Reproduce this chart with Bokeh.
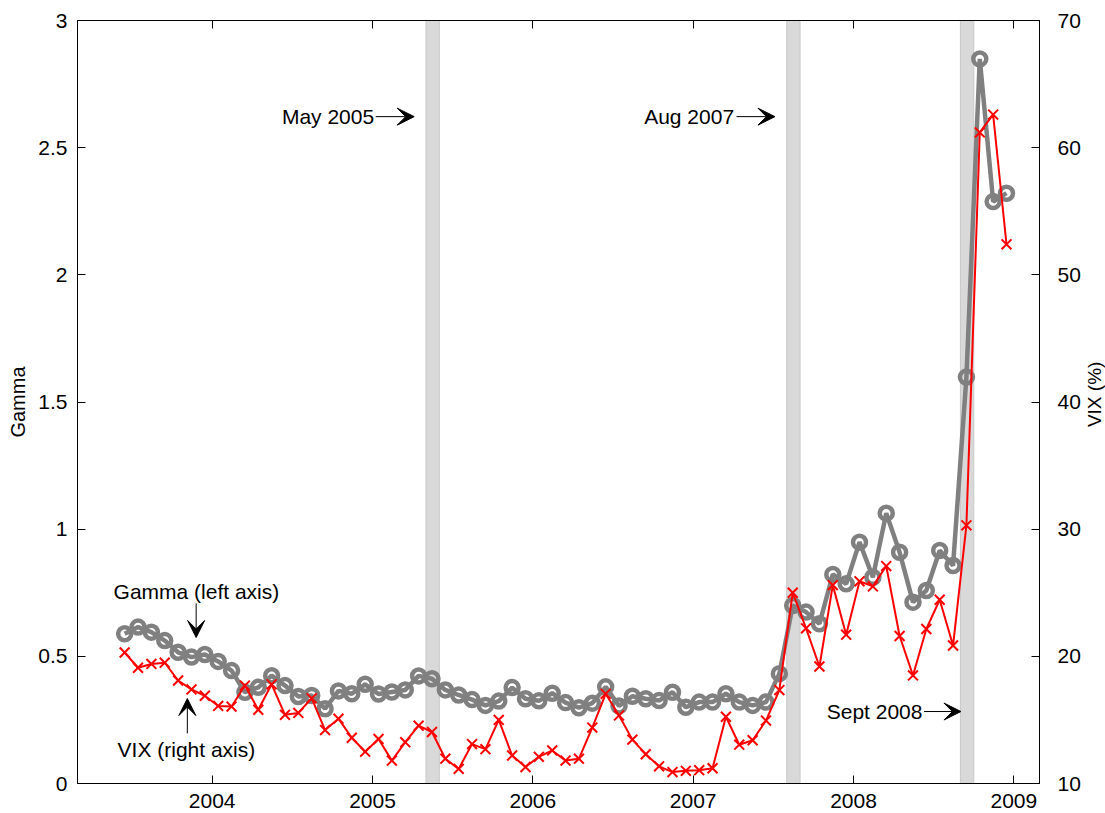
import math
import pandas as pd
from bokeh.plotting import figure
from bokeh.layouts import row
from bokeh.models import (Range1d, LinearAxis, FixedTicker, Label, Arrow, VeeHead,
                          NumeralTickFormatter, ColumnDataSource, CustomLabelingPolicy)
from bokeh.embed import file_html
from bokeh.resources import INLINE

# ---------------- data ----------------
start_month = "2003-06"
gamma = [0.589, 0.615, 0.595, 0.562, 0.516, 0.497, 0.507, 0.480, 0.444, 0.359,
         0.378, 0.424, 0.385, 0.342, 0.346, 0.294, 0.364, 0.353, 0.390, 0.352,
         0.360, 0.368, 0.423, 0.412, 0.368, 0.348, 0.330, 0.307, 0.324, 0.377,
         0.333, 0.325, 0.355, 0.318, 0.298, 0.316, 0.380, 0.305, 0.343, 0.333,
         0.326, 0.359, 0.300, 0.320, 0.320, 0.353, 0.320, 0.307, 0.320, 0.432,
         0.700, 0.674, 0.628, 0.822, 0.785, 0.949, 0.811, 1.063, 0.909, 0.713,
         0.759, 0.916, 0.857, 1.598, 2.849, 2.288, 2.321]
vix = [20.3, 19.1, 19.4, 19.5, 18.1, 17.4, 16.9, 16.1, 16.05, 17.7,
       15.8, 17.8, 15.4, 15.55, 16.7, 14.2, 15.1, 13.6, 12.5, 13.5,
       11.8, 13.25, 14.55, 14.05, 11.95, 11.15, 13.1, 12.7, 15.0, 12.2,
       11.3, 12.1, 12.6, 11.8, 11.95, 14.4, 17.05, 15.35, 13.45, 12.3,
       11.35, 10.9, 11.0, 11.05, 11.2, 15.25, 13.05, 13.4, 14.95, 17.35,
       25.0, 22.2, 19.2, 25.6, 21.7, 25.9, 25.5, 27.1, 21.6, 18.5,
       22.15, 24.45, 20.85, 30.3, 61.2, 62.6, 52.4]
event_months = ["2005-05", "2007-08", "2008-09"]
event_labels = ["May 2005", "Aug 2007", "Sept 2008"]
x_ticks = [2004, 2005, 2006, 2007, 2008, 2009]
gamma_ticks = [0, 0.5, 1, 1.5, 2, 2.5, 3]
vix_ticks = [10, 20, 30, 40, 50, 60, 70]

months = pd.period_range(start_month, periods=len(gamma), freq="M")
xs = list(months.year + (months.month - 1 + 0.45) / 12.0)

ev = [pd.Period(m, freq="M") for m in event_months]
band_left = [e.year + (e.month - 1) / 12.0 for e in ev]
band_right = [b + 1 / 12.0 for b in band_left]

FONT = "Liberation Sans"
FS = "21px"
X0, X1 = 2003.16, 2009.16

p = figure(width=1083, height=813, x_range=Range1d(X0, X1),
           y_range=Range1d(0, 3), output_backend="svg", toolbar_location=None,
           min_border_left=77, min_border_top=20, min_border_right=42,
           min_border_bottom=30)
p.grid.visible = False
p.outline_line_color = "black"
p.outline_line_width = 1
p.outline_line_alpha = 1
p.background_fill_color = "white"
p.border_fill_color = "white"

def style_axis(ax, ticks):
    ax.ticker = FixedTicker(ticks=ticks)
    ax.major_tick_in = 8
    ax.major_tick_out = 0
    ax.minor_tick_in = 0
    ax.minor_tick_out = 0
    ax.axis_line_color = "black"
    ax.major_tick_line_color = "black"
    ax.major_label_text_font = FONT
    ax.major_label_text_font_size = FS
    ax.major_label_text_color = "black"
    ax.axis_label_text_font = FONT
    ax.axis_label_text_font_size = "20px"
    ax.axis_label_text_font_style = "normal"
    ax.axis_label_text_color = "black"

style_axis(p.xaxis[0], x_ticks)
p.xaxis[0].formatter = NumeralTickFormatter(format="0")
p.xaxis[0].major_label_standoff = 10

style_axis(p.yaxis[0], gamma_ticks)
p.yaxis[0].formatter = NumeralTickFormatter(format="0.[0]")
p.yaxis[0].axis_label = "Gamma"
p.yaxis[0].major_label_standoff = 10
p.yaxis[0].axis_label_standoff = 6

p.extra_y_ranges = {"vix": Range1d(10, 70)}
rax = LinearAxis(y_range_name="vix")
style_axis(rax, vix_ticks)
rax.formatter = NumeralTickFormatter(format="0")
rax.major_label_standoff = 18
p.add_layout(rax, "right")

# top axis: tick marks only, no labels
tax = LinearAxis()
style_axis(tax, x_ticks)
tax.major_label_text_font_size = "0px"
tax.major_label_standoff = 0
tax.major_label_policy = CustomLabelingPolicy(code="if (false) { yield 0 }")
p.add_layout(tax, "above")

# event bands
bands = ColumnDataSource(dict(left=band_left, right=band_right,
                              bottom=[0] * len(ev), top=[3] * len(ev)))
p.quad(left="left", right="right", bottom="bottom", top="top", source=bands,
       fill_color="#d9d9d9", line_color="#c8c8c8", line_width=1)

src = ColumnDataSource(dict(x=xs, gamma=gamma, vix=vix))
p.line("x", "gamma", source=src, line_color="#808080", line_width=4.5)
p.scatter("x", "gamma", source=src, marker="circle", size=13, fill_color=None,
          line_color="#808080", line_width=4.5)
p.line("x", "vix", source=src, y_range_name="vix", line_color="red", line_width=2)
p.scatter("x", "vix", source=src, y_range_name="vix", marker="x", size=14,
          line_color="red", line_width=2)

# annotations
def arrow(x0, y0, x1, y1):
    p.add_layout(Arrow(end=VeeHead(size=17, fill_color="black", line_color="black",
                                   line_width=1),
                       x_start=x0, y_start=y0, x_end=x1, y_end=y1,
                       line_color="black", line_width=1))

ann = [(event_labels[0], 2005.01, 2.622, 2005.02, 2005.26),
       (event_labels[1], 2007.255, 2.622, 2007.27, 2007.51),
       (event_labels[2], 2008.43, 0.283, 2008.44, 2008.67)]
for txt, tx, ty, ax0, ax1 in ann:
    p.add_layout(Label(x=tx, y=ty, text=txt, text_align="right", text_baseline="middle",
                       text_font=FONT, text_font_size=FS, text_color="black"))
    arrow(ax0, ty, ax1, ty)

p.add_layout(Label(x=2003.385, y=0.755, text="Gamma (left axis)", text_align="left",
                   text_baseline="middle", text_font=FONT, text_font_size=FS,
                   text_color="black"))
arrow(2003.90, 0.708, 2003.90, 0.574)
p.add_layout(Label(x=2003.41, y=0.134, text="VIX (right axis)", text_align="left",
                   text_baseline="middle", text_font=FONT, text_font_size=FS,
                   text_color="black"))
arrow(2003.845, 0.197, 2003.845, 0.334)

# narrow strip to the right holding the right-axis title (reads bottom-to-top)
p2 = figure(width=22, height=813, x_range=Range1d(0, 1), y_range=Range1d(0, 1),
            output_backend="svg", toolbar_location=None, x_axis_type=None,
            y_axis_type=None, min_border=0)
p2.grid.visible = False
p2.outline_line_color = None
p2.add_layout(Label(x=0.5, y=0.51, text="VIX (%)", angle=math.pi / 2,
                    text_align="center", text_baseline="middle", text_font=FONT,
                    text_font_size="19px", text_color="black"))

open("out.html", "w").write(file_html(row(p, p2), INLINE))
